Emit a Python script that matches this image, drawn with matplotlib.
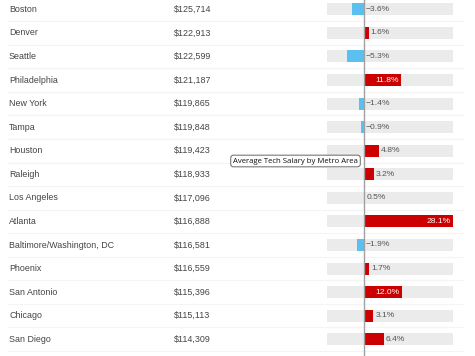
import matplotlib
matplotlib.use("Agg")
import matplotlib.pyplot as plt
import matplotlib.transforms as mtransforms

plt.rcParams['font.family'] = ['Liberation Sans', 'DejaVu Sans']

cities = ['Boston', 'Denver', 'Seattle', 'Philadelphia', 'New York', 'Tampa',
          'Houston', 'Raleigh', 'Los Angeles', 'Atlanta',
          'Baltimore/Washington, DC', 'Phoenix', 'San Antonio', 'Chicago',
          'San Diego']
salaries = [125714, 122913, 122599, 121187, 119865, 119848, 119423, 118933,
            117096, 116888, 116581, 116559, 115396, 115113, 114309]
changes = [-3.6, 1.6, -5.3, 11.8, -1.4, -0.9, 4.8, 3.2, 0.5, 28.1, -1.9,
           1.7, 12.0, 3.1, 6.4]
tooltip = 'Average Tech Salary by Metro Area'

W, H = 475, 356
fig = plt.figure(figsize=(W / 100, H / 100), dpi=100)
fig.patch.set_facecolor('white')

xmin, xmax = -11.48, 28.1
row_top, row_h = 9.3, 23.57
y_top = -row_top / row_h
y_bot = (H - row_top) / row_h

ax = fig.add_axes([327 / W, 0, 126 / W, 1])
ax.set_xlim(xmin, xmax)
ax.set_ylim(y_bot, y_top)
ax.axis('off')

n = len(cities)
rows = list(range(n))
bar_h = 12 / row_h

# grey track and value bars
ax.barh(rows, [xmax - xmin] * n, left=xmin, height=bar_h, color='#ebebeb', zorder=1)
colors = ['#5bc0f0' if v < 0 else '#cc0000' for v in changes]
ax.barh(rows, changes, height=bar_h, color=colors, zorder=2)
ax.axvline(0, color='#a0a0a0', lw=1, zorder=3)

for i, v in enumerate(changes):
    lab = ('\u2212%.1f%%' % abs(v)) if v < 0 else '%.1f%%' % v
    if v < 0:
        ax.text(0.8, i, lab, ha='left', va='center', fontsize=6.1, color='#555555', zorder=4)
    elif v > 10:
        ax.text(v - 0.6, i, lab, ha='right', va='center', fontsize=6.1, color='white', zorder=4)
    else:
        ax.text(v + 0.6, i, lab, ha='left', va='center', fontsize=6.1, color='#555555', zorder=4)

# text columns and row separators
trans = mtransforms.blended_transform_factory(fig.transFigure, ax.transData)
for i in rows:
    fig.text(9 / W, 0, cities[i], transform=trans, fontsize=6.4, color='#444444',
             ha='left', va='center').set_y(i)
    fig.text(174 / W, 0, '${:,}'.format(salaries[i]), transform=trans, fontsize=6.4,
             color='#444444', ha='left', va='center').set_y(i)
    ax.plot([8 / W, 463 / W], [i + 0.5, i + 0.5], transform=trans, color='#f4f4f4',
            lw=0.8, zorder=0, clip_on=False)

fig.text(295.5 / W, 1 - 161 / H, tooltip, fontsize=5.6, color='#111111',
         family=['Open Sans', 'DejaVu Sans'], ha='center', va='center',
         bbox=dict(boxstyle='round,pad=0.3,rounding_size=0.35', fc='white',
                   ec='#666666', lw=0.7))

fig.savefig('out.png', dpi=100)
